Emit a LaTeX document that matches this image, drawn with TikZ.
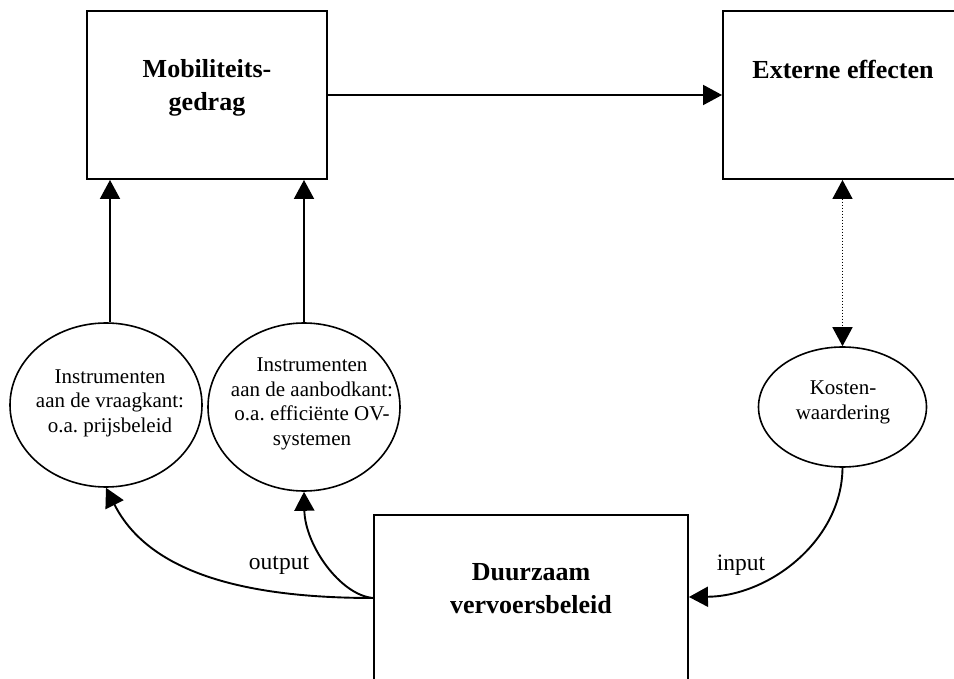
\documentclass[tikz,border=0pt]{standalone}
\usepackage{fontspec}
\setmainfont{Liberation Serif}
\usetikzlibrary{arrows.meta,shapes.geometric}
\frenchspacing
\begin{document}
\frenchspacing
\begin{tikzpicture}[x=1pt,y=-1pt,
  box/.style={draw, line width=1.9pt, rectangle, minimum width=240pt, minimum height=168pt, inner sep=0},
  boxtext/.style={font=\fontsize{26}{33}\selectfont\bfseries, align=center, inner sep=0, anchor=north},
  oval/.style={draw, ellipse, line width=1.6pt, inner sep=0},
  ovaltext/.style={font=\fontsize{21}{24.5}\selectfont, align=center, inner sep=0},
  arr/.style={line width=1.9pt, -{Triangle[length=19pt,width=20pt]}},
  lbl/.style={font=\fontsize{23.5}{28}\selectfont, inner sep=0, anchor=base}]
\useasboundingbox (0,0) rectangle (954,679);
\clip (0,0) rectangle (954,679);

% boxes
\node[box] (mob) at (207,95) {};
\node[boxtext] (mobt) at (207,59.5) {Mobiliteits-\\gedrag};
\node[box] (ext) at (843,95) {};
\node[boxtext] (extt) at (843,59.5) {Externe effecten};
\node[box, minimum width=314pt, minimum height=200pt] (duur) at (531,615) {};
\node[boxtext] (duurt) at (531,563.5) {Duurzaam\\vervoersbeleid};

% ellipses
\node[oval, minimum width=192pt, minimum height=164pt] (e1) at (106,405) {};
\node[ovaltext] (e1t) at (110,403) {Instrumenten\\aan de vraagkant:\\o.a. prijsbeleid};
\node[oval, minimum width=192pt, minimum height=168pt] (e2) at (304,407) {};
\node[ovaltext] (e2t) at (312,404) {Instrumenten\\aan de aanbodkant:\\o.a. efficiënte OV-\\systemen};
\node[oval, minimum width=168pt, minimum height=120pt] (e3) at (842.5,407) {};
\node[ovaltext] (e3t) at (843,402.5) {Kosten-\\waardering};

% straight connectors
\path (e1.north) ++(4,0) coordinate (e1top);
\draw[arr] (e1top) -- (e1top |- mob.south);
\draw[arr] (e2.north) -- (e2.north |- mob.south);
\draw[arr] (mob.east) -- (ext.west);
\draw[line width=1.5pt, dash pattern=on 1.5pt off 1.5pt, {Triangle[length=19pt,width=20pt]}-{Triangle[length=19pt,width=20pt]}] (e3.north |- ext.south) -- (e3.north);

% curved connectors
\path (duur.west) ++(0,-17) coordinate (outp);
\path (duur.east) ++(0,-18) coordinate (inp);
\draw[arr] (outp) .. controls (250,598) and (150,575) .. (e1.south);
\draw[arr] (outp) .. controls (340,595) and (305,545) .. (e2.south);
\draw[arr] (e3.south) .. controls (842,540) and (770,596) .. (inp);

% labels
\node[lbl] (outl) at (279,569) {output};
\node[lbl] (inl) at (741,570) {input};
\end{tikzpicture}
\end{document}
